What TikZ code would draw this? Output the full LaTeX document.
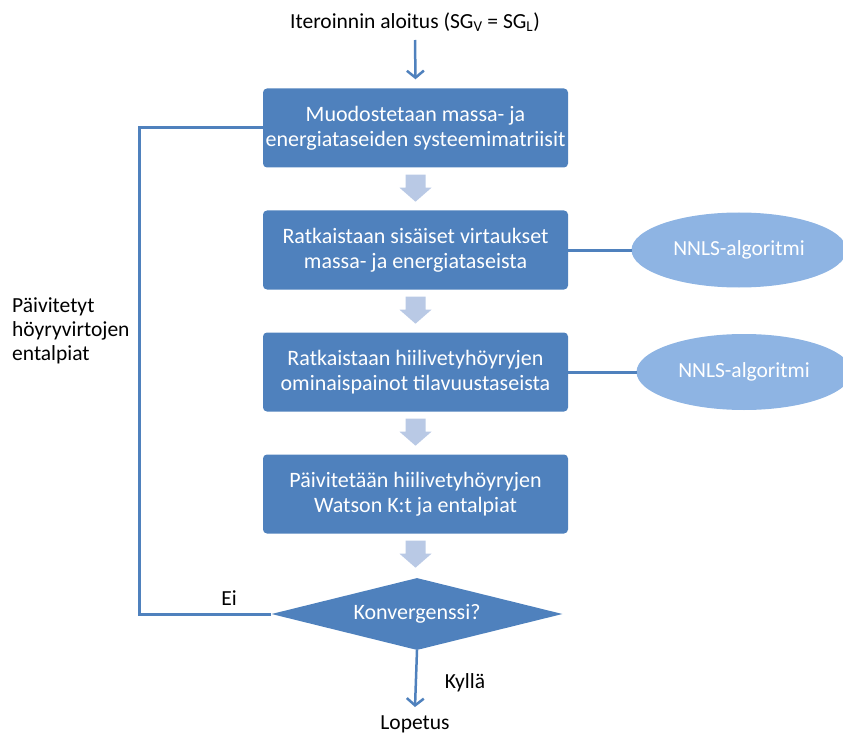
\documentclass[tikz,border=0pt]{standalone}
\usepackage{fontspec}
\setmainfont{Carlito}
\usetikzlibrary{shapes.geometric,arrows.meta,calc}

\definecolor{boxblue}{RGB}{79,129,189}
\definecolor{ovalblue}{RGB}{142,180,227}
\definecolor{stepgray}{RGB}{185,201,229}
\definecolor{lineblue}{RGB}{79,129,189}

\tikzset{
  every node/.style={font=\fontsize{21.5}{24}\selectfont},
  procbox/.style={rectangle, rounded corners=4pt, fill=boxblue, text=white,
    minimum width=305pt, minimum height=79pt, align=center, inner sep=0pt,
    font=\fontsize{22}{25}\selectfont},
  ovaltext/.style={inner sep=0pt, text=white, font=\fontsize{21.5}{24}\selectfont},
  ovalfill/.style={fill=ovalblue},
  decision/.style={diamond, fill=boxblue, text=white, minimum width=291pt,
    minimum height=72pt, inner sep=0pt, aspect=4, font=\fontsize{22}{24}\selectfont},
  plain/.style={inner sep=0pt},
  link/.style={draw=lineblue, line width=3pt},
  flow/.style={draw=lineblue, line width=2.5pt, -{Straight Barb[length=7pt,width=17pt,line width=2.5pt]}},
  stepfill/.style={fill=stepgray},
}

% block arrow placed just below the south anchor of a node
\newcommand{\downstep}[1]{%
  \fill[stepfill] ($(#1.south)+(-10,7)$) -- ($(#1.south)+(10,7)$)
    -- ($(#1.south)+(10,20)$) -- ($(#1.south)+(16,20)$)
    -- ($(#1.south)+(0,34)$) -- ($(#1.south)+(-16,20)$)
    -- ($(#1.south)+(-10,20)$) -- cycle;}

\begin{document}
\begin{tikzpicture}[x=1pt,y=-1pt]
  \useasboundingbox (0,0) rectangle (843,738);

  \node[plain] (start) at (415,22) {Iteroinnin aloitus (SG\textsubscript{V} = SG\textsubscript{L})};

  \node[procbox] (b1) at (415.5,128) {Muodostetaan massa- ja\\energiataseiden systeemimatriisit};
  \node[procbox] (b2) at (415.5,250) {Ratkaistaan sisäiset virtaukset\\massa- ja energiataseista};
  \node[procbox] (b3) at (415.5,372) {Ratkaistaan hiilivetyhöyryjen\\ominaispainot tilavuustaseista};
  \node[procbox] (b4) at (415.5,494) {Päivitetään hiilivetyhöyryjen\\Watson K:t ja entalpiat};
  \node[decision] (conv) at (417,614) {Konvergenssi?};

  % solver ovals: filled ellipse with its label on top
  \coordinate (c1) at (739,250);
  \coordinate (c2) at (744,372);
  \fill[ovalfill] (c1) ellipse [x radius=107.5pt, y radius=37.5pt];
  \fill[ovalfill] (c2) ellipse [x radius=107.5pt, y radius=38pt];
  \node[ovaltext] (n1) at (c1) {NNLS-algoritmi};
  \node[ovaltext] (n2) at (c2) {NNLS-algoritmi};
  \coordinate (n1west) at ($(c1)+(-107.5,0)$);
  \coordinate (n2west) at ($(c2)+(-107.5,0)$);

  \node[plain] (endtxt) at (415,724) {Lopetus};
  \node[plain] (no) at (229,598) {Ei};
  \node[plain] (yes) at (465,683) {Kyllä};
  \node[plain, anchor=west, align=left] (upd) at (12,331) {Päivitetyt\\höyryvirtojen\\entalpiat};

  \coordinate (startarrow) at (415,40);
  \coordinate (loopcorner) at (139,614);
  \coordinate (finish) at (415,707);

  % main flow
  \draw[flow] (startarrow) -- ($(b1.north)+(0,-9)$);
  \downstep{b1}
  \downstep{b2}
  \downstep{b3}
  \downstep{b4}

  % solver links
  \draw[link] (b2.east) -- (n1west);
  \draw[link] (b3.east) -- (n2west);

  % feedback loop
  \draw[link] (conv.west) -- (loopcorner) |- (b1.west);

  % exit
  \draw[flow] (conv.south) -- (finish);
\end{tikzpicture}
\end{document}
